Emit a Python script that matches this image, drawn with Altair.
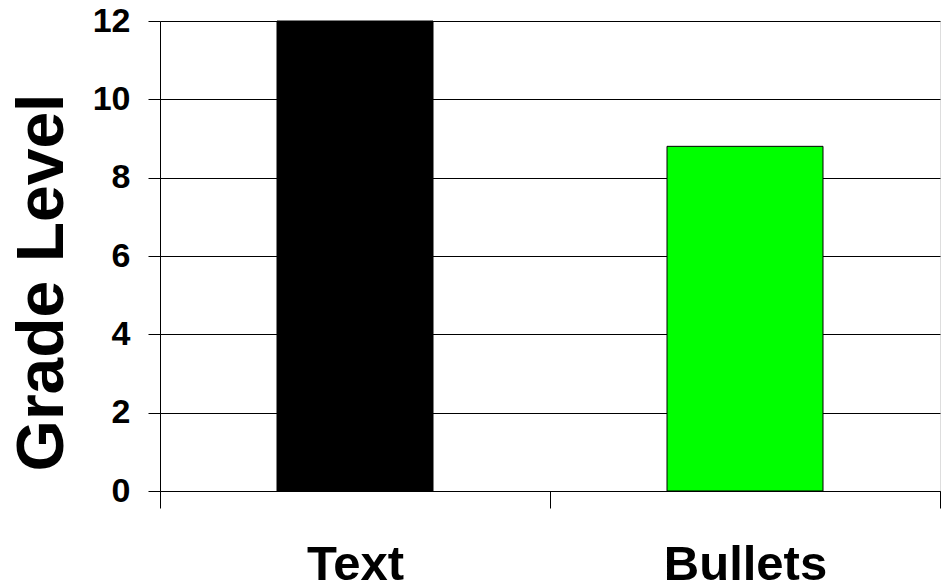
import altair as alt
import pandas as pd

categories = ["Text", "Bullets"]
values = [12, 8.8]
colors = ["#000000", "#00ff00"]
y_ticks = [0, 2, 4, 6, 8, 10, 12]

df = pd.DataFrame({"category": categories, "value": values})

FONT = "Liberation Sans, Arial, sans-serif"

chart = (
    alt.Chart(df)
    .mark_bar(width=alt.RelativeBandSize(0.4), stroke="#000000", strokeWidth=1)
    .encode(
        x=alt.X(
            "category:N",
            sort=categories,
            scale=alt.Scale(paddingInner=0, paddingOuter=0),
            axis=alt.Axis(
                title=None,
                tickBand="extent",
                labelAngle=0,
                labelFont=FONT,
                labelFontSize=49,
                labelFontWeight="bold",
                labelColor="#000000",
                labelPadding=32,
                tickSize=17,
                tickColor="#000000",
                domainColor="#000000",
                grid=False,
            ),
        ),
        y=alt.Y(
            "value:Q",
            scale=alt.Scale(domain=[0, 12], nice=False),
            axis=alt.Axis(
                title="Grade Level",
                values=y_ticks,
                titleFont=FONT,
                titleFontSize=66,
                titleFontWeight="bold",
                titleColor="#000000",
                titleAngle=270,
                titleAlign="center",
                titleBaseline="alphabetic",
                titleX=-98,
                titleY=261,
                labelFont=FONT,
                labelFontSize=34,
                labelFontWeight="bold",
                labelColor="#000000",
                labelPadding=18,
                tickSize=12,
                tickColor="#000000",
                domainColor="#000000",
                grid=True,
                gridColor="#000000",
                gridWidth=1,
            ),
        ),
        color=alt.Color(
            "category:N",
            scale=alt.Scale(domain=categories, range=colors),
            legend=None,
        ),
    )
    .properties(
        width=780,
        height=470,
        autosize=alt.AutoSizeParams(type="none"),
        padding={"left": 152, "top": 13, "right": 1, "bottom": 89},
    )
    .configure_view(stroke=None)
    .configure(background="#ffffff")
)

chart.save("out.html", embed_options={"renderer": "svg", "actions": False})
